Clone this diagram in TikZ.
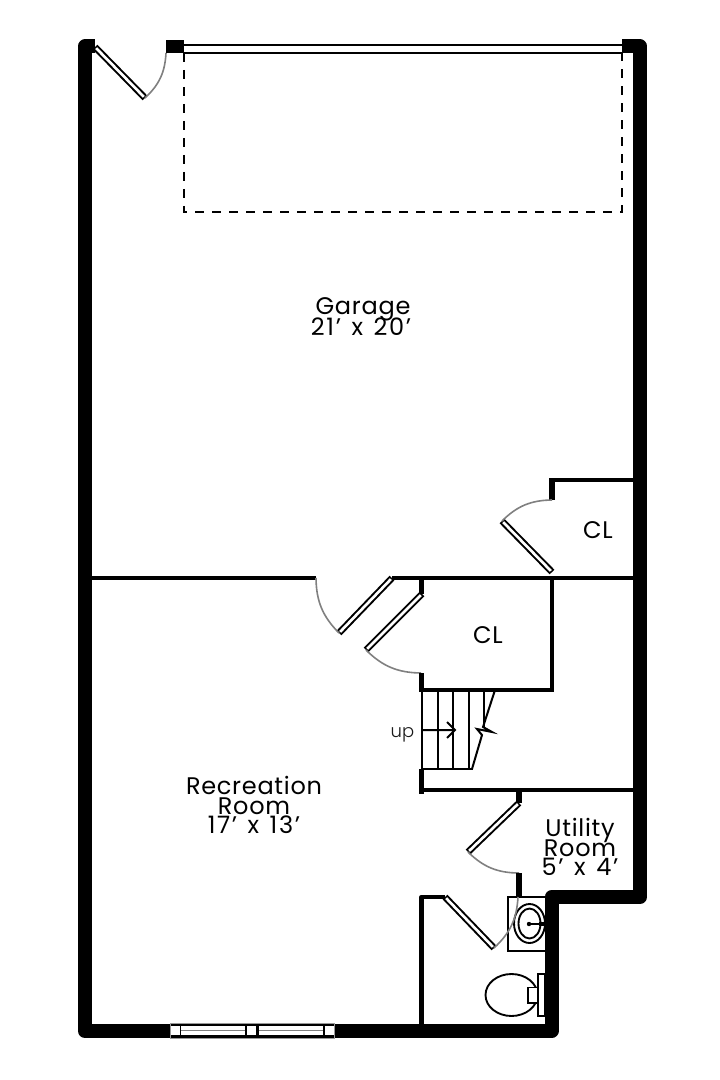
\documentclass[tikz,border=0pt]{standalone}
\usepackage{fontspec}
\usetikzlibrary{calc}
\newfontfamily\planfont[LetterSpace=3]{Poppins}
\newfontfamily\sizefont[LetterSpace=7,WordSpace=1.3]{Poppins}
\newfontfamily\upfont{Poppins Light}
\newcommand\doorleaf[2]{%
  \draw[leafouter] #1 -- #2;
  \draw[leafinner] ($#1!1.2pt!#2$) -- ($#2!1.2pt!#1$);}
\tikzset{
  x=0.75pt,y=-0.75pt,
  outerwall/.style={line width=10.5pt,line join=round,line cap=butt},
  wall/.style={line width=3.2pt,line cap=butt,line join=round},
  stub/.style={line width=3.8pt,line cap=butt},
  thin/.style={line width=1.5pt},
  fix/.style={line width=1.4pt},
  leafouter/.style={draw=black,line width=5pt,line cap=butt},
  leafinner/.style={draw=white,line width=2pt,line cap=butt},
  swing/.style={draw=black!50,line width=1.2pt},
  label/.style={font=\planfont\fontsize{18}{18}\selectfont,inner sep=0pt,anchor=base},
  sizelabel/.style={font=\sizefont\fontsize{18}{18}\selectfont,inner sep=0pt,anchor=base},
}
\begin{document}
\begin{tikzpicture}
\useasboundingbox[fill=white] (0,0) rectangle (720,1080);
% outer walls
\draw[outerwall] (95,46.5) -- (85,46.5) -- (85,1031) -- (551.5,1031) -- (551.5,897) -- (640,897) -- (640,46.5) -- (622,46.5);
\fill (166,40) rectangle (184,53.5);
% garage door
\draw[line width=1.5pt] (184,45) -- (622,45) (184,53) -- (622,53);
\draw[line width=1.5pt,dash pattern=on 6.75pt off 6pt] (184,53) -- (184,212) -- (622,212) -- (622,53);
% door 1
\doorleaf{(95,47)}{(145,98)}
\draw[swing] (145,98) to[bend right=22] (166,53);
% interior walls
\draw[wall] (92,578) -- (316,578);
\draw[wall] (392,578) -- (633,578);
\draw[stub] (421.5,578) -- (421.5,594);
\doorleaf{(392,578)}{(339,633)}
\draw[swing] (339,633) to[bend left=22] (316,578);
\doorleaf{(422,594)}{(366,650)}
\draw[swing] (366,650) to[bend right=22] (421,673);
\draw[stub] (421.5,673) -- (421.5,692);
\draw[wall] (419.5,690) -- (554,690);
\draw[wall] (552,578) -- (552,692);
% upper closet
\draw[stub] (552,478) -- (552,500);
\draw[wall] (550,480) -- (633,480);
\doorleaf{(552,572)}{(502,521)}
\draw[swing] (502,521) to[bend left=22] (552,500);
% stairs
\draw[thin] (422,690) -- (422,769) -- (473,769);
\foreach \sx in {437.5,453,468.5}{\draw[thin] (\sx,690) -- (\sx,769);}
\draw[thin] (484,690) -- (484,727);
\draw[thin] (495,690) -- (483,727) -- (492,732) -- (477,729) -- (482,735) -- (472,769);
\draw[thin] (423,730) -- (455,730) (447,722) -- (455,730) -- (447,738);
% utility walls
\draw[stub] (421.5,769) -- (421.5,794);
\draw[wall] (423,790) -- (633,790);
\draw[stub] (519,790) -- (519,803);
\doorleaf{(519,803)}{(468,852)}
\draw[swing] (468,852) to[bend right=22] (519,873);
\draw[stub] (519,873) -- (519,897);
% bathroom
\draw[wall] (421.5,1024) -- (421.5,897) -- (445,897);
\draw[fix] (545,897) -- (508,897) -- (508,951) -- (545,951);
\doorleaf{(445,897)}{(494,948)}
\draw[fix] (529.5,923.5) ellipse [x radius=15.5,y radius=19.5];
\draw[fix] (529.5,923.5) ellipse [x radius=11,y radius=15];
\fill (529,924) circle [radius=2.2];
\draw[fix] (529,924) -- (545,924);
\draw[line width=2.6pt] (539,924) -- (545,924);
\draw[swing] (494,948) to[bend right=22] (518,897);
\draw[fix] (511.5,995) ellipse [x radius=26,y radius=21];
\draw[fix,fill=white] (528,987.5) rectangle (538,1003);
\draw[fix,fill=white] (538,974) rectangle (545,1016);
% bottom window
\draw[draw=black!40,line width=0.7pt,fill=black] (170,1023) rectangle (334,1038);
\foreach \wx in {171,247,325}{\fill[white] (\wx,1026) rectangle ++(8.5,9);}
\foreach \wx in {181,259}{
  \fill[white] (\wx,1026) rectangle ++(64,9);
  \draw[black!50,line width=1.2pt] (\wx,1030.5) -- ++(64,0);
}
% labels
\node[label] (garage) at (363,315) {Garage};
\node[sizelabel] (garagesize) at (361,335) {21’ x 20’};
\node[label] (clupper) at (598,538) {CL};
\node[label] (cllower) at (488,643) {CL};
\node[font=\upfont\fontsize{13.5}{13.5}\selectfont,inner sep=0pt,anchor=base,text=black!90] (up) at (402.5,737) {up};
\node[label] (rec) at (254,794) {Recreation};
\node[label] (recroom) at (254,814) {Room};
\node[sizelabel] (recsize) at (254,833) {17’ x 13’};
\node[label] (util) at (580,836) {Utility};
\node[label] (utilroom) at (580,856) {Room};
\node[sizelabel] (utilsize) at (580,875) {5’ x 4’};
\end{tikzpicture}
\end{document}
